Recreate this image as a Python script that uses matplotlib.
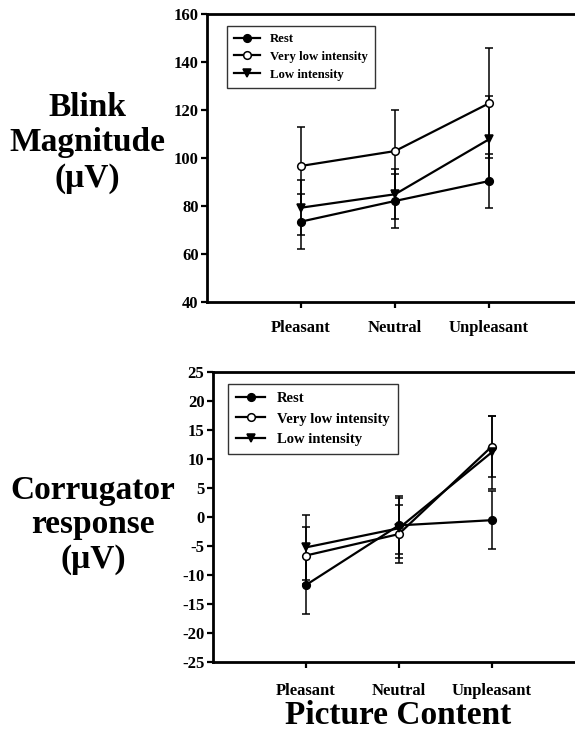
import matplotlib.pyplot as plt

plt.rcParams['font.family'] = ['Liberation Serif', 'DejaVu Serif']
plt.rcParams['font.weight'] = 'bold'
plt.rcParams['axes.unicode_minus'] = False

conditions = ['Pleasant', 'Neutral', 'Unpleasant']
series = ['Rest', 'Very low intensity', 'Low intensity']

blink_rest = [73.5, 82.1, 90.4]
blink_rest_err = [11.3, 11.1, 11.4]
blink_vlow = [96.7, 102.9, 122.8]
blink_vlow_err = [16.1, 17.0, 23.0]
blink_low = [79.3, 84.9, 107.8]
blink_low_err = [11.4, 10.5, 18.2]

corr_rest = [-11.8, -1.5, -0.6]
corr_rest_err = [5.0, 5.0, 5.0]
corr_vlow = [-6.7, -3.0, 12.1]
corr_vlow_err = [4.9, 5.0, 5.3]
corr_low = [-5.3, -2.0, 11.1]
corr_low_err = [5.6, 5.2, 6.3]

blink_ticks = [40, 60, 80, 100, 120, 140, 160]
corr_ticks = [-25, -20, -15, -10, -5, 0, 5, 10, 15, 20, 25]

xpos = [1, 2, 3]
styles = [('o', 'black'), ('o', 'white'), ('v', 'black')]

fig = plt.figure(figsize=(5.75, 7.45), dpi=100)
ax1 = fig.add_axes([0.36, 0.5946, 0.654, 0.3866])
ax2 = fig.add_axes([0.37, 0.1118, 0.647, 0.3893])


def draw(ax, data, errs, ticks, ylim, legsize, legx, legspace):
    for (vals, err), name, (mk, fc) in zip(zip(data, errs), series, styles):
        ax.errorbar(xpos, vals, yerr=err, fmt='none', ecolor='black',
                    elinewidth=1.1, capsize=3, capthick=1.1, zorder=2)
        ax.plot(xpos, vals, color='black', lw=1.6, marker=mk, ms=5.5,
                mfc=fc, mec='black', mew=1.1, label=name, zorder=3)
    ax.set_xlim(0, 4)
    ax.set_ylim(*ylim)
    ax.set_yticks(ticks)
    ax.set_xticks(xpos)
    ax.set_xticklabels(conditions)
    for s in ['left', 'top', 'bottom']:
        ax.spines[s].set_linewidth(2)
    ax.spines['right'].set_visible(False)
    ax.tick_params(axis='y', direction='out', length=4, width=1.6, labelsize=12, pad=2)
    ax.tick_params(axis='x', direction='out', length=4, width=1.6, labelsize=12, pad=9)
    leg = ax.legend(loc='upper left', bbox_to_anchor=(legx, 0.958), borderaxespad=0,
                    fancybox=False, edgecolor='black',
                    handlelength=2.0, labelspacing=legspace, borderpad=0.55,
                    prop={'weight': 'bold', 'size': legsize})
    leg.get_frame().set_linewidth(1.0)


draw(ax1, [blink_rest, blink_vlow, blink_low],
     [blink_rest_err, blink_vlow_err, blink_low_err], blink_ticks, (40, 160), 9.2, 0.053, 0.45)
draw(ax2, [corr_rest, corr_vlow, corr_low],
     [corr_rest_err, corr_vlow_err, corr_low_err], corr_ticks, (-25, 25), 10.5, 0.041, 0.5)
ax2.tick_params(axis='x', pad=11)

fig.text(87 / 575, 1 - 143 / 745, 'Blink\nMagnitude\n(\u03bcV)', ha='center', va='center',
         fontsize=24, fontweight='bold', linespacing=1.2)
fig.text(93 / 575, 1 - 525 / 745, 'Corrugator\nresponse\n(\u03bcV)', ha='center', va='center',
         fontsize=24, fontweight='bold', linespacing=1.15)
fig.text(398 / 575, 1 - 716 / 745, 'Picture Content', ha='center', va='center',
         fontsize=24, fontweight='bold')

fig.savefig('out.png', dpi=100)
